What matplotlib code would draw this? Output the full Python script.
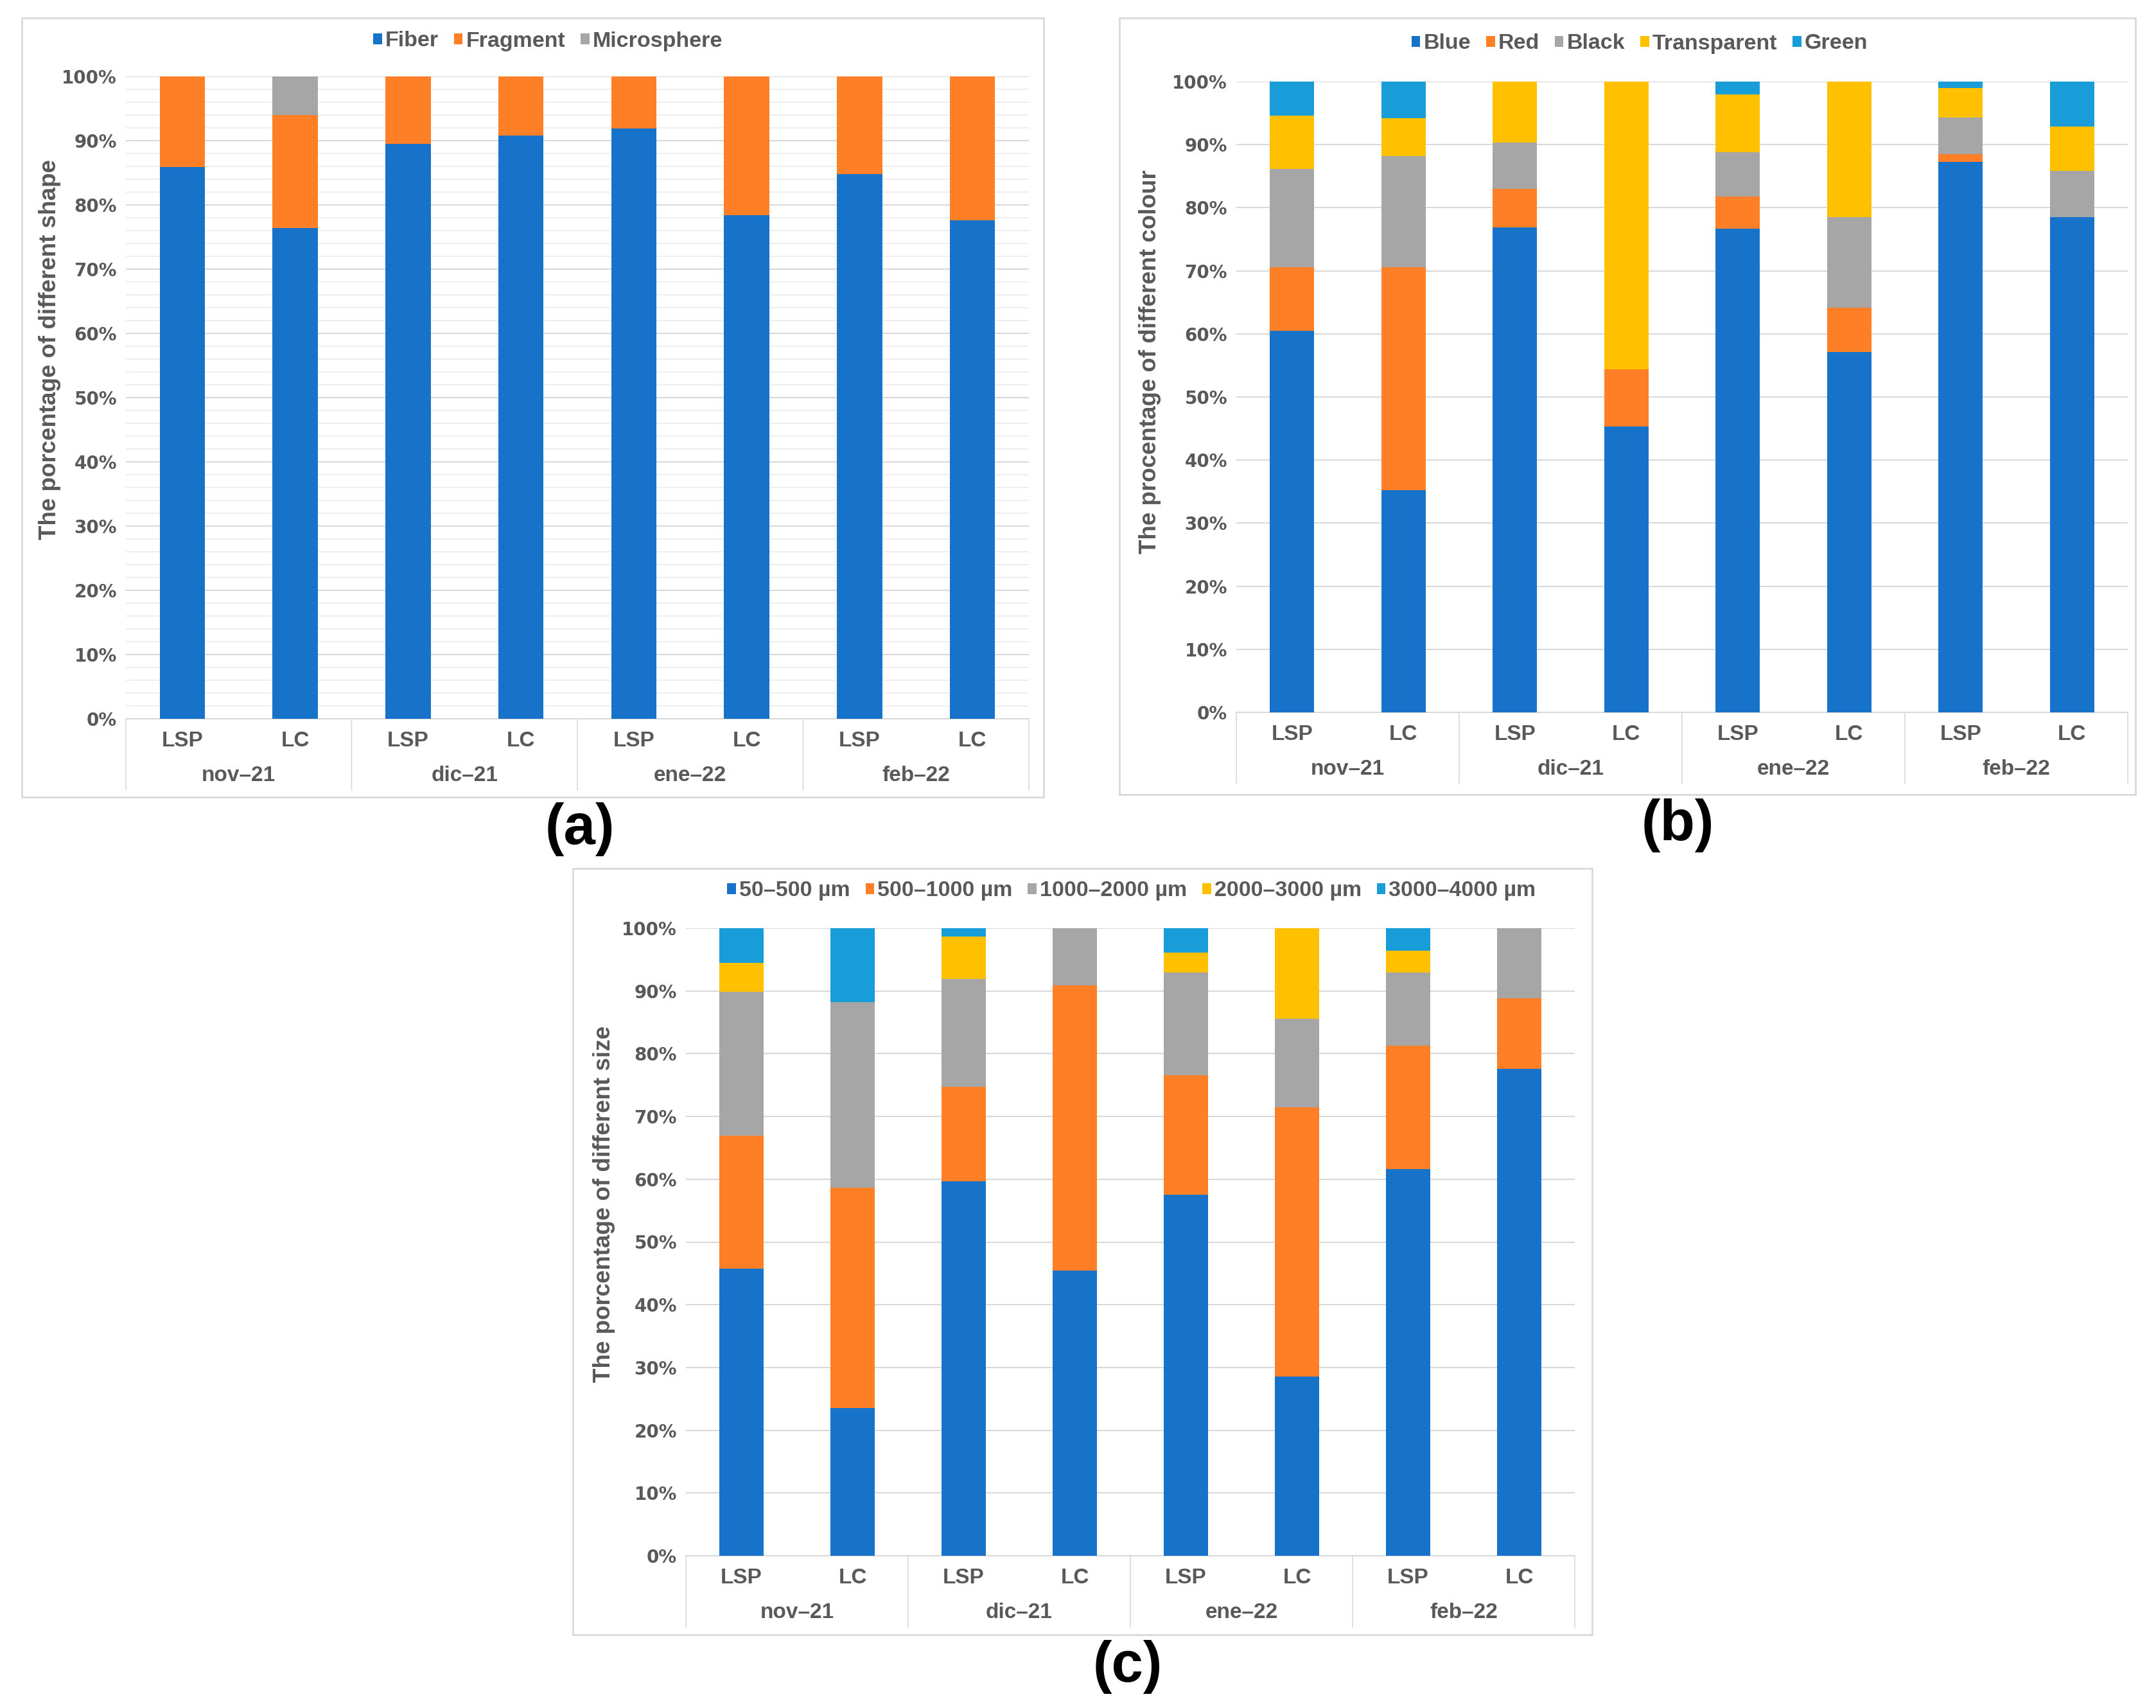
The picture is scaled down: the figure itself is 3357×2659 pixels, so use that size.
import matplotlib.pyplot as plt
from matplotlib.patches import Rectangle
import numpy as np

months = ['nov–21', 'dic–21', 'ene–22', 'feb–22']
sites = ['LSP', 'LC']

# (a) shape
shape_names = ['Fiber', 'Fragment', 'Microsphere']
fiber = [85.9, 76.4, 89.5, 90.8, 91.9, 78.4, 84.8, 77.6]
fragment = [14.1, 17.6, 10.5, 9.2, 8.1, 21.6, 15.2, 22.4]
microsphere = [0, 6.0, 0, 0, 0, 0, 0, 0]

# (b) colour
colour_names = ['Blue', 'Red', 'Black', 'Transparent', 'Green']
blue = [60.5, 35.2, 76.9, 45.3, 76.7, 57.1, 87.3, 78.5]
red = [10.1, 35.4, 6.1, 9.1, 5.1, 7.1, 1.2, 0]
black = [15.5, 17.6, 7.3, 0, 7.0, 14.3, 5.8, 7.3]
transparent = [8.5, 6.0, 9.7, 45.6, 9.2, 21.5, 4.7, 7.1]
green = [5.4, 5.8, 0, 0, 2.0, 0, 1.0, 7.1]

# (c) size
size_names = ['50–500 µm', '500–1000 µm', '1000–2000 µm', '2000–3000 µm', '3000–4000 µm']
s50_500 = [45.8, 23.5, 59.7, 45.4, 57.5, 28.6, 61.6, 77.6]
s500_1000 = [21.1, 35.2, 15.0, 45.5, 19.1, 42.8, 19.7, 11.2]
s1000_2000 = [23.0, 29.5, 17.2, 9.1, 16.3, 14.2, 11.6, 11.2]
s2000_3000 = [4.6, 0, 6.8, 0, 3.2, 14.4, 3.5, 0]
s3000_4000 = [5.5, 11.8, 1.3, 0, 3.9, 0, 3.6, 0]

C_BLUE, C_ORANGE, C_GRAY, C_YELLOW, C_CYAN = '#1673C9', '#FF7F27', '#A6A6A6', '#FFC000', '#189DD9'
TXT = '#595959'
LINE = '#d9d9d9'

W, H = 3357, 2659
fig = plt.figure(figsize=(W / 100, H / 100), dpi=100)


def fx(px):
    return px / W


def fy(py):
    return 1 - py / H


def panel(plot_px, box_px, names, series, colors, ylabel, ylabel_xy, leg_px, fine_grid):
    l, t, r, b = plot_px
    ax = fig.add_axes([fx(l), fy(b), fx(r - l), (b - t) / H])
    x = np.arange(len(sites) * len(months))
    bottom = np.zeros(len(x))
    for name, vals, c in zip(names, series, colors):
        ax.bar(x, vals, 0.4, bottom=bottom, color=c, label=name, zorder=3)
        bottom += np.array(vals)
    ax.set_xlim(-0.5, len(x) - 0.5)
    ax.set_ylim(0, 100)
    ax.set_yticks(range(0, 101, 10))
    ax.set_yticklabels([f'{v}%' for v in range(0, 101, 10)], family='DejaVu Sans',
                       fontweight='bold', fontsize=20, color=TXT)
    ax.tick_params(axis='y', length=0, pad=10)
    ax.set_axisbelow(True)
    if fine_grid:
        ax.set_yticks(range(0, 101, 2), minor=True)
        ax.tick_params(axis='y', which='minor', length=0)
        ax.yaxis.grid(True, which='minor', color='#eeeeee', lw=1.5)
    ax.yaxis.grid(True, which='major', color=LINE, lw=1.5)
    for s in ['top', 'left', 'right']:
        ax.spines[s].set_visible(False)
    ax.spines['bottom'].set_color(LINE)
    ax.spines['bottom'].set_linewidth(1.5)
    ax.set_xticks(x)
    ax.set_xticklabels([])
    ax.tick_params(axis='x', length=0)
    trans = ax.get_xaxis_transform()
    for i, xi in enumerate(x):
        ax.annotate(sites[i % 2], xy=(xi, 0), xycoords=trans, xytext=(0, -25),
                    textcoords='offset points', ha='center', va='center',
                    family='Liberation Sans', fontweight='bold', fontsize=24, color=TXT)
    for j, m in enumerate(months):
        ax.annotate(m, xy=(2 * j + 0.5, 0), xycoords=trans, xytext=(0, -64),
                    textcoords='offset points', ha='center', va='center',
                    family='Liberation Sans', fontweight='bold', fontsize=24, color=TXT)
    for j in range(len(months) + 1):
        ax.annotate('', xy=(2 * j - 0.5, 0), xycoords=trans, xytext=(0, -80),
                    textcoords='offset points',
                    arrowprops=dict(arrowstyle='-', color=LINE, lw=1.2, shrinkA=0, shrinkB=0))
    ax.set_ylabel(ylabel, family='Liberation Sans', fontweight='bold', fontsize=26.5, color=TXT)
    ax.yaxis.set_label_coords((ylabel_xy[0] - l) / (r - l), ylabel_xy[1])
    ax.legend(loc='center', bbox_to_anchor=(fx(leg_px[0]), fy(leg_px[1])),
              bbox_transform=fig.transFigure, ncol=len(names), frameon=False,
              handlelength=0.4, handleheight=0.4, handletextpad=0.15, columnspacing=0.7,
              prop={'family': 'Liberation Sans', 'weight': 'bold', 'size': 24.5},
              labelcolor=TXT, borderaxespad=0)
    bl, bt, br, bb = box_px
    fig.patches.append(Rectangle((fx(bl), fy(bb)), fx(br - bl), (bb - bt) / H,
                                 transform=fig.transFigure, fill=False,
                                 edgecolor=LINE, lw=2))
    return ax


panel((196, 119, 1602, 1119), (34, 28, 1625, 1241), shape_names,
      [fiber, fragment, microsphere], [C_BLUE, C_ORANGE, C_GRAY],
      'The porcentage of different shape', (95, 0.575), (853, 64), True)

panel((1925, 127, 3313, 1109), (1743, 28, 3325, 1237), colour_names,
      [blue, red, black, transparent, green], [C_BLUE, C_ORANGE, C_GRAY, C_YELLOW, C_CYAN],
      'The procentage of different colour', (1808, 0.556), (2553, 68), False)

panel((1068, 1445, 2452, 2422), (892, 1352, 2479, 2545), size_names,
      [s50_500, s500_1000, s1000_2000, s2000_3000, s3000_4000],
      [C_BLUE, C_ORANGE, C_GRAY, C_YELLOW, C_CYAN],
      'The porcentage of different size', (958, 0.56), (1762, 1387), False)

for lab, px, py in [('(a)', 903, 1291), ('(b)', 2612, 1285), ('(c)', 1756, 2595)]:
    fig.text(fx(px), fy(py), lab, ha='center', va='center', family='Liberation Sans',
             fontweight='bold', fontsize=64, color='black')

fig.savefig('out.png', dpi=100, facecolor='white')
